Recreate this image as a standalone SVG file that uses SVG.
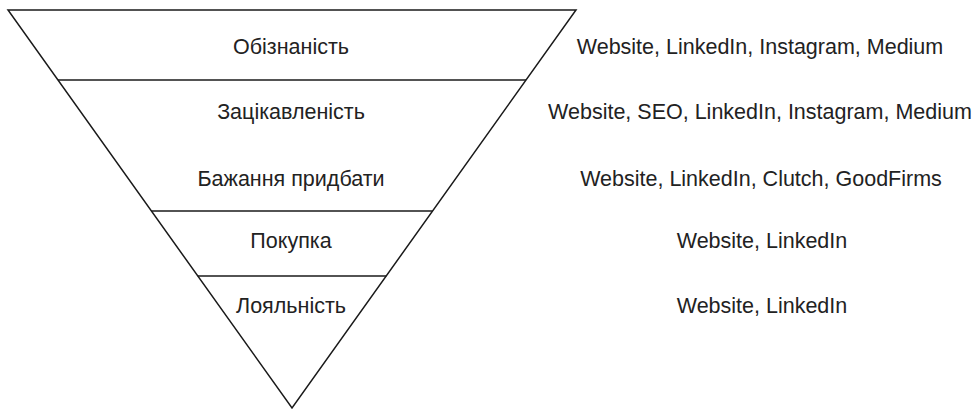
<svg xmlns="http://www.w3.org/2000/svg" width="975" height="410" viewBox="0 0 975 410">
<style>
  .ln { stroke: #1a1a1a; stroke-width: 1.5; fill: none; }
  .t { font-family: "Liberation Sans", Arial, sans-serif; font-size: 21.5px; fill: #222; text-anchor: middle; }
</style>
<rect width="975" height="410" fill="#fff"/>
<g id="funnel">
  <polygon class="ln" points="8,10 576,10 292,408"/>
</g>
<g id="dividers">
  <line class="ln" x1="58" y1="80" x2="526" y2="80"/>
  <line class="ln" x1="151.4" y1="211" x2="432.6" y2="211"/>
  <line class="ln" x1="197.8" y1="276" x2="386.2" y2="276"/>
</g>
<g id="stage-awareness"><text class="t" x="291" y="54">Обізнаність</text></g>
<g id="stage-interest"><text class="t" x="291" y="119">Зацікавленість</text></g>
<g id="stage-desire"><text class="t" x="291" y="186">Бажання придбати</text></g>
<g id="stage-purchase"><text class="t" x="291" y="248">Покупка</text></g>
<g id="stage-loyalty"><text class="t" x="291" y="313">Лояльність</text></g>
<g id="channels">
  <text class="t" x="760" y="54">Website, LinkedIn, Instagram, Medium</text>
  <text class="t" x="760" y="119">Website, SEO, LinkedIn, Instagram, Medium</text>
  <text class="t" x="761" y="186">Website, LinkedIn, Clutch, GoodFirms</text>
  <text class="t" x="762" y="248">Website, LinkedIn</text>
  <text class="t" x="762" y="313">Website, LinkedIn</text>
</g>
</svg>
